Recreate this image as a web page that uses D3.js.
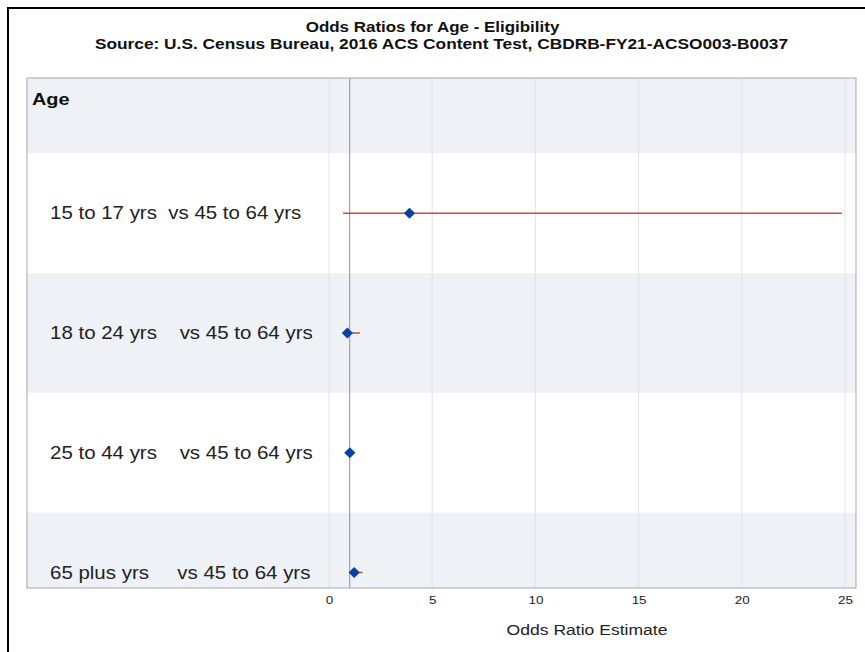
<!DOCTYPE html>
<html>
<head>
<meta charset="utf-8">
<script src="https://cdn.jsdelivr.net/npm/d3@7"></script>
<style>
  html, body { margin: 0; padding: 0; background: #fff; }
  svg { display: block; font-family: "Liberation Sans", Arial, sans-serif; }
  text { white-space: pre; }
</style>
</head>
<body>
<svg id="chart" width="865" height="652"></svg>
<script>
// Age contrasts and their odds ratio estimates with 95% confidence limits
const headerLabel = "Age";
const categories = [
  "15 to 17 yrs  vs 45 to 64 yrs",
  "18 to 24 yrs    vs 45 to 64 yrs",
  "25 to 44 yrs    vs 45 to 64 yrs",
  "65 plus yrs     vs 45 to 64 yrs"
];
const estimates = [3.9, 0.89, 1.01, 1.22];
const lowerCL   = [0.68, 0.80, 0.93, 1.02];
const upperCL   = [24.85, 1.50, 1.10, 1.63];
const xTicks = [0, 5, 10, 15, 20, 25];
const referenceValue = 1;

const titleText = "Odds Ratios for Age - Eligibility";
const subtitleText = "Source: U.S. Census Bureau, 2016 ACS Content Test, CBDRB-FY21-ACSO003-B0037";
const xTitle = "Odds Ratio Estimate";

// all lettering is set slightly wide
const stretch = 1.17;

const svg = d3.select("#chart");

// outer frame
svg.append("rect")
  .attr("x", 8).attr("y", 8).attr("width", 880).attr("height", 680)
  .attr("fill", "none").attr("stroke", "#000").attr("stroke-width", 2);

// plot area
const plot = { left: 27, right: 856, top: 78, bottom: 588 };

const x = d3.scaleLinear().domain([0, 25]).range([329, 845]);
const rows = [headerLabel, ...categories];
const y = d3.scalePoint().domain(rows).range([93.5, 572.5]);
const rowH = y.step();

svg.append("defs").append("clipPath").attr("id", "plotClip")
  .append("rect")
  .attr("x", plot.left).attr("y", plot.top)
  .attr("width", plot.right - plot.left).attr("height", plot.bottom - plot.top);

const g = svg.append("g").attr("clip-path", "url(#plotClip)");

// alternating row bands
g.selectAll("rect.band").data(rows).join("rect")
  .attr("class", "band")
  .attr("x", plot.left).attr("width", plot.right - plot.left)
  .attr("y", d => y(d) - rowH / 2).attr("height", rowH)
  .attr("fill", (d, i) => i % 2 === 0 ? "#eef1f5" : "#ffffff");

// vertical grid lines
g.selectAll("line.grid").data(xTicks).join("line")
  .attr("class", "grid")
  .attr("x1", d => x(d)).attr("x2", d => x(d))
  .attr("y1", plot.top).attr("y2", plot.bottom)
  .attr("stroke", "#e1e3e6").attr("stroke-width", 1);

// reference line at odds ratio = 1
g.append("line")
  .attr("x1", x(referenceValue)).attr("x2", x(referenceValue))
  .attr("y1", plot.top).attr("y2", plot.bottom)
  .attr("stroke", "#9ea3a9").attr("stroke-width", 1.2);

// confidence interval lines
g.selectAll("line.ci").data(categories).join("line")
  .attr("class", "ci")
  .attr("x1", (d, i) => x(lowerCL[i])).attr("x2", (d, i) => x(upperCL[i]))
  .attr("y1", d => y(d)).attr("y2", d => y(d))
  .attr("stroke", "#c0552d").attr("stroke-width", 1.5);

// point estimates
const diamond = d3.symbol().type(d3.symbolDiamond2).size(80);
g.selectAll("path.est").data(categories).join("path")
  .attr("class", "est")
  .attr("d", diamond)
  .attr("transform", (d, i) => `translate(${x(estimates[i])},${y(d)})`)
  .attr("fill", "#0a3fa3");

// row labels
svg.selectAll("text.rowlab").data(categories).join("text")
  .attr("class", "rowlab")
  .attr("transform", d => `translate(50,${y(d)}) scale(${stretch},1)`)
  .attr("dy", "0.35em")
  .attr("font-size", 17.5)
  .attr("fill", "#222")
  .text(d => d);

svg.append("text")
  .attr("transform", `translate(32,105) scale(${stretch},1)`)
  .attr("font-size", 17).attr("font-weight", "bold").attr("fill", "#111")
  .text(headerLabel);

// plot border
svg.append("rect")
  .attr("x", plot.left).attr("y", plot.top)
  .attr("width", plot.right - plot.left).attr("height", plot.bottom - plot.top)
  .attr("fill", "none").attr("stroke", "#a4a7ab").attr("stroke-width", 1);

// x axis labels
const axis = d3.axisBottom(x).tickValues(xTicks).tickSize(0).tickPadding(8);
const ax = svg.append("g").attr("transform", `translate(0,${plot.bottom})`).call(axis);
ax.select(".domain").remove();
ax.selectAll("text")
  .attr("font-size", 11.5).attr("fill", "#222")
  .attr("font-family", "Liberation Sans, Arial, sans-serif")
  .attr("transform", `scale(${stretch},1)`);

svg.append("text")
  .attr("transform", `translate(${(x(0) + x(25)) / 2},635) scale(${stretch},1)`)
  .attr("text-anchor", "middle").attr("font-size", 15).attr("fill", "#222")
  .text(xTitle);

// titles
svg.append("text")
  .attr("transform", `translate(432.5,31.5) scale(${stretch},1)`)
  .attr("text-anchor", "middle").attr("font-size", 14.5).attr("font-weight", "bold")
  .attr("fill", "#111")
  .text(titleText);

svg.append("text")
  .attr("transform", `translate(441.5,48.5) scale(${stretch},1)`)
  .attr("text-anchor", "middle").attr("font-size", 14.8).attr("font-weight", "bold")
  .attr("fill", "#111")
  .text(subtitleText);
</script>
</body>
</html>
